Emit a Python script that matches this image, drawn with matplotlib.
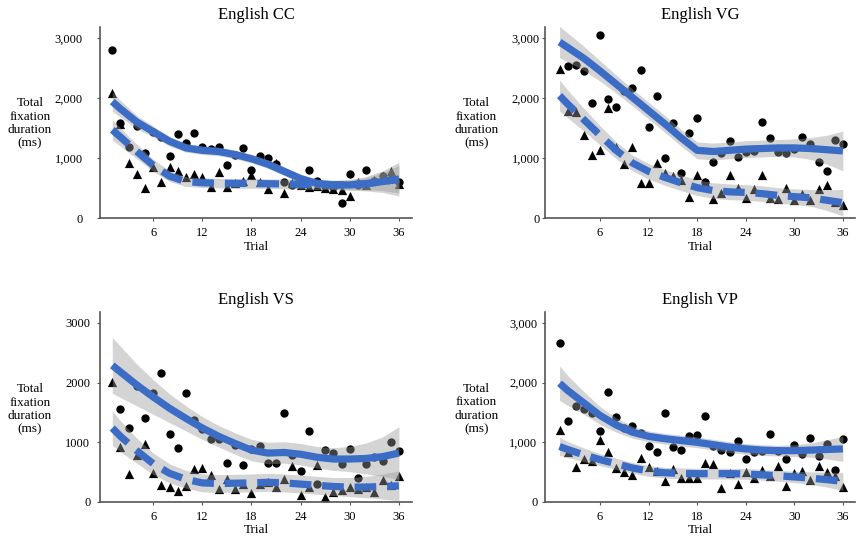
import matplotlib
matplotlib.use("Agg")
import matplotlib.pyplot as plt
import numpy as np

plt.rcParams['font.family'] = ['Liberation Serif', 'DejaVu Serif']

trials = list(range(1, 37))
fit_trials = [1, 2, 4, 6, 8, 10, 12, 14, 16, 18, 20, 22, 24, 26, 28, 30, 32, 34, 36]

titles = ["English CC", "English VG", "English VS", "English VP"]
ytick_vals = [0, 1000, 2000, 3000]
ytick_labels_comma = ["0", "1,000", "2,000", "3,000"]
ytick_labels_plain = ["0", "1000", "2000", "3000"]
xtick_vals = [6, 12, 18, 24, 30, 36]
xtick_labels = ["6", "12", "18", "24", "30", "36"]

# None = no visible point (hidden / not shown)
# ---- English CC ----
cc_circ = [2800, 1590, 1180, 1530, 1090, 1440, 1350, 1040, 1400, 1250, 1410, 1180,
           1150, 1180, 880, 1050, 1170, 810, 1040, 1000, 900, 600, 560, 620,
           810, 620, 540, 520, 260, 730, 560, 800, 620, 700, 650, 600]
cc_tri = [2080, 1560, 920, 735, 500, 860, 600, 850, 790, 690, 740, 690,
          525, 775, 525, 590, 620, 720, 610, 480, 925, 415, 590, 560,
          520, 540, 500, 480, 470, 376, 600, 560, 640, 700, 780, 565]
cc_fit_solid = [1940, 1820, 1600, 1440, 1280, 1170, 1130, 1110, 1060, 990, 900, 780,
                660, 580, 555, 555, 575, 610, 650]
cc_se_solid = [160, 140, 110, 90, 80, 70, 70, 70, 70, 70, 70, 70, 70, 70, 70, 80, 100, 150, 230]
cc_fit_dash = [1470, 1350, 1110, 880, 700, 610, 590, 585, 580, 580, 575, 570, 565,
               560, 555, 555, 575, 610, 650]
cc_se_dash = [170, 150, 120, 100, 90, 80, 80, 80, 80, 80, 80, 80, 80, 80, 80, 90, 120, 180, 280]

# ---- English VG ----
vg_circ = [None, 2530, 2546, 2446, 1920, 3044, 1976, 1854, 2120, 2159, 2463, 1511,
           2031, 996, 1577, 747, 1411, 1660, 609, 930, 1080, 1284, 1024, 1107,
           1120, 1605, 1340, 1100, 1080, 1151, 1356, 1229, 941, 786, 1300, 1234]
vg_tri = [2490, 1786, 1760, 1383, 1051, 1134, 1826, 1189, 901, 1189, 591, 591,
          913, 760, 700, 640, 349, 720, 600, 321, 426, 720, 498, 332,
          482, 720, 332, 315, 498, 304, 400, 304, 482, 553, 277, 221]
vg_fit_solid = [2930, 2840, 2660, 2450, 2230, 2010, 1790, 1570, 1340, 1130, 1110, 1130,
                1150, 1160, 1170, 1170, 1160, 1140, 1120]
vg_se_solid = [260, 240, 200, 170, 150, 140, 140, 140, 140, 140, 140, 140, 140, 140,
               140, 150, 180, 240, 330]
vg_fit_dash = [2040, 1900, 1640, 1380, 1130, 920, 780, 680, 590, 510, 460, 440, 430,
               410, 380, 360, 340, 300, 260]
vg_se_dash = [260, 230, 190, 160, 140, 130, 130, 130, 130, 130, 130, 130, 130, 130,
              130, 130, 140, 170, 220]

# ---- English VS ----
vs_circ = [None, 1553, 1245, 1950, 1413, 1822, 2170, 1133, 897, 1834, 1374, 1217,
           1060, 1049, 656, 960, 617, 880, 942, 656, 656, 1497, 785, 516,
           1189, 308, 869, 813, 645, 886, 409, 634, 760, 684, 1009, 852]
vs_tri = [2016, 927, 464, 788, 967, 481, 285, 246, 184, 268, 548, 565,
          447, 224, 392, 224, 308, 151, 300, 336, 252, 392, 600, 112,
          252, 628, 84, 168, 196, 252, 224, 252, 168, 364, 292, 432]
vs_fit_solid = [2290, 2180, 1960, 1760, 1570, 1400, 1240, 1100, 980, 870, 820, 830,
                800, 750, 720, 720, 730, 760, 820]
vs_se_solid = [470, 430, 350, 290, 240, 210, 190, 180, 180, 180, 180, 180, 180, 180,
               190, 210, 260, 330, 440]
vs_fit_dash = [1240, 1100, 860, 640, 480, 380, 320, 310, 315, 320, 330, 320, 300,
               280, 260, 250, 250, 260, 270]
vs_se_dash = [290, 260, 210, 180, 160, 150, 150, 150, 150, 150, 150, 150, 150, 150,
              150, 160, 180, 210, 250]

# ---- English VP ----
vp_circ = [2665, 1363, 1615, 1559, 1492, 1184, 1844, 1419, 1240, 1280, 1150, 944,
           832, 1492, 922, 877, 1112, 1117, 1436, 944, 877, 832, 1028, 721,
           832, 850, 1145, 850, 721, 961, 804, 1073, 777, 978, 542, 1061]
vp_tri = [1209, 845, 593, 722, 680, 1041, 845, 570, 509, 453, 734, 590,
          520, 358, 560, 400, 400, 400, 654, 642, 235, 480, 302, 497,
          402, 542, 440, 598, 274, 486, 514, 374, 598, 497, 430, 251]
vp_fit_solid = [1990, 1870, 1660, 1450, 1290, 1170, 1100, 1060, 1030, 1000, 960, 920,
                890, 870, 860, 860, 870, 880, 890]
vp_se_solid = [290, 250, 190, 150, 120, 100, 90, 90, 90, 90, 90, 90, 90, 90, 90,
               100, 120, 160, 210]
vp_fit_dash = [930, 880, 790, 710, 640, 570, 520, 490, 480, 475, 475, 475, 470, 455,
               440, 420, 400, 375, 345]
vp_se_dash = [150, 135, 115, 100, 95, 90, 90, 90, 90, 90, 90, 90, 90, 90, 90, 95,
              105, 125, 150]

panels = [
    (cc_circ, cc_tri, cc_fit_solid, cc_se_solid, cc_fit_dash, cc_se_dash, ytick_labels_comma),
    (vg_circ, vg_tri, vg_fit_solid, vg_se_solid, vg_fit_dash, vg_se_dash, ytick_labels_comma),
    (vs_circ, vs_tri, vs_fit_solid, vs_se_solid, vs_fit_dash, vs_se_dash, ytick_labels_plain),
    (vp_circ, vp_tri, vp_fit_solid, vp_se_solid, vp_fit_dash, vp_se_dash, ytick_labels_comma),
]

W, H = 856, 536
fig = plt.figure(figsize=(W / 100, H / 100), dpi=100)

# axes rectangles in pixels: left, top, right, bottom
rects = [(100, 27, 412, 218.3), (545, 27, 855, 218.3),
         (100, 312, 412, 502), (545, 312, 855, 502)]
xlims = [(-0.5, 37.6), (-0.8, 37.5), (-0.5, 37.6), (-0.8, 37.5)]
ylims = [(0, 3180), (0, 3180), (0, 3184), (0, 3184)]
ypads = [10.0, 1.2, 4.5, 3.0]
ylabel_dx = [-70, -68.5, -70, -68.5]
ylabel_y = [0.496, 0.496, 0.487, 0.49]

blue = "#3b6cc6"
spine_col = "#555555"

for i, (circ, tri, fs, ss, fd, sd, ylabels) in enumerate(panels):
    l, t, r, b = rects[i]
    ax = fig.add_axes([l / W, (H - b) / H, (r - l) / W, (b - t) / H])
    ax.set_xlim(*xlims[i])
    ax.set_ylim(*ylims[i])
    circ_a = np.array([np.nan if v is None else v for v in circ], dtype=float)
    tri_a = np.array([np.nan if v is None else v for v in tri], dtype=float)
    ax.scatter(trials, circ_a, marker='o', s=36, color='black', zorder=2, linewidths=0)
    ax.scatter(trials, tri_a, marker='^', s=44, color='black', zorder=2, linewidths=0)
    fs_a, ss_a = np.array(fs), np.array(ss)
    fd_a, sd_a = np.array(fd), np.array(sd)
    ax.fill_between(fit_trials, fs_a - ss_a, fs_a + ss_a, color='#9a9a9a', alpha=0.42,
                    linewidth=0, zorder=3)
    ax.fill_between(fit_trials, fd_a - sd_a, fd_a + sd_a, color='#9a9a9a', alpha=0.42,
                    linewidth=0, zorder=3)
    ax.plot(fit_trials, fs, color=blue, lw=5.2, solid_capstyle='butt', zorder=4)
    ax.plot(fit_trials, fd, color=blue, lw=5.2, dashes=(3.0, 1.5),
            dash_capstyle='butt', zorder=4)

    for s in ['top', 'right']:
        ax.spines[s].set_visible(False)
    for s in ['left', 'bottom']:
        ax.spines[s].set_color(spine_col)
        ax.spines[s].set_linewidth(1.2)
    ax.set_xticks(xtick_vals)
    ax.set_xticklabels(xtick_labels)
    ax.set_yticks(ytick_vals)
    ax.set_yticklabels(ylabels)
    ax.tick_params(axis='both', colors=spine_col, labelcolor='black', labelsize=9,
                   length=2.5, width=0.8)
    ax.tick_params(axis='x', pad=4)
    ax.tick_params(axis='y', pad=ypads[i])
    ax.set_title(titles[i], fontsize=12, pad=6)
    ax.set_xlabel("Trial", fontsize=9.5, labelpad=1)
    ax.set_ylabel("Total\nfixation\nduration\n(ms)", rotation=0, fontsize=9.5,
                  ha='center', va='center', linespacing=1.15)
    ax.yaxis.set_label_coords(ylabel_dx[i] / (r - l), ylabel_y[i])

fig.savefig("out.png", dpi=100)
